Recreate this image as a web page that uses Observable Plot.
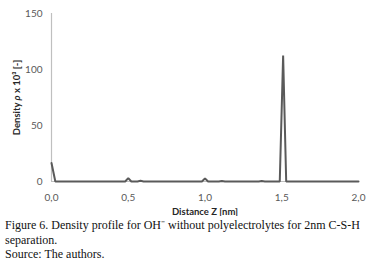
<!DOCTYPE html>
<html>
<head>
<meta charset="utf-8">
<script src="https://cdn.jsdelivr.net/npm/d3@7"></script>
<script src="https://cdn.jsdelivr.net/npm/@observablehq/plot@0.6"></script>
<style>
  html, body { margin: 0; padding: 0; background: #fff; }
  #chart svg { display: block; }
  .caption { font-family: "Liberation Serif", "Times New Roman", serif; font-size: 12px; line-height: 14.5px; color: #111; margin: 2px 0 0 5px; }
</style>
</head>
<body>
<div id="chart"></div>
<div class="caption">Figure 6. Density profile for OH⁻ without polyelectrolytes for 2nm C-S-H separation.<br>Source: The authors.</div>
<script>
// Distance Z [nm]
const distance = [0.0, 0.025, 0.48, 0.50, 0.52, 0.56, 0.58, 0.60, 0.98, 1.00, 1.02, 1.09, 1.11, 1.13, 1.35, 1.37, 1.39, 1.487, 1.509, 1.529, 2.0];
// Density rho x 10^3 [-]
const density  = [16.5, 0.0,  0.0,  3.0,  0.0,  0.0,  0.6,  0.0,  0.0,  2.8,  0.0,  0.0,  0.5,  0.0,  0.0,  0.4,  0.0,  0.0,  112.5, 0.0,  0.0];
const yTicks = [0, 50, 100, 150];
const xTicks = [0, 0.5, 1.0, 1.5, 2.0];

const data = distance.map((z, i) => ({z, rho: density[i]}));

const plot = Plot.plot({
  width: 385,
  height: 216,
  marginLeft: 51,
  marginRight: 27,
  marginTop: 13,
  marginBottom: 35,
  style: {fontFamily: "Lato, 'Open Sans', sans-serif", fontSize: "10px", color: "#595959", background: "#fff"},
  x: {domain: [0, 2]},
  y: {domain: [0, 150]},
  marks: [
    Plot.axisY({ticks: yTicks, tickSize: 0, tickPadding: 9, label: "Density ρ x 10³ [-]", labelArrow: "none", labelAnchor: "center", labelOffset: 38, fill: "#595959"}),
    Plot.axisX({ticks: xTicks, tickSize: 0, tickPadding: 12, tickFormat: d => d.toFixed(1).replace(".", ","), label: "Distance Z [nm]", labelArrow: "none", labelAnchor: "center", labelOffset: 33, fill: "#595959"}),
    Plot.ruleX([0], {stroke: "#bfbfbf", strokeWidth: 1.2}),
    Plot.ruleY([0], {stroke: "#bfbfbf"}),
    Plot.line(data, {x: "z", y: "rho", stroke: "#5a5a5a", strokeWidth: 2, strokeLinejoin: "miter"})
  ]
});
document.getElementById("chart").appendChild(plot);

// style axis labels: bold, dark
d3.select(plot).selectAll("g[aria-label='y-axis label'] text, g[aria-label='x-axis label'] text")
  .attr("font-weight", "bold").attr("fill", "#262626").style("font-size", "9.5px");
// italic rho
d3.select(plot).selectAll("g[aria-label='y-axis label'] text").each(function() {
  const t = d3.select(this);
  t.text(null);
  t.append("tspan").text("Density ");
  t.append("tspan").attr("font-style", "italic").text("ρ");
  t.append("tspan").text(" x 10³ [-]");
});
d3.select(plot).selectAll("g[aria-label='x-axis label'] text").text("Distance Z [nm]");
</script>
</body>
</html>
